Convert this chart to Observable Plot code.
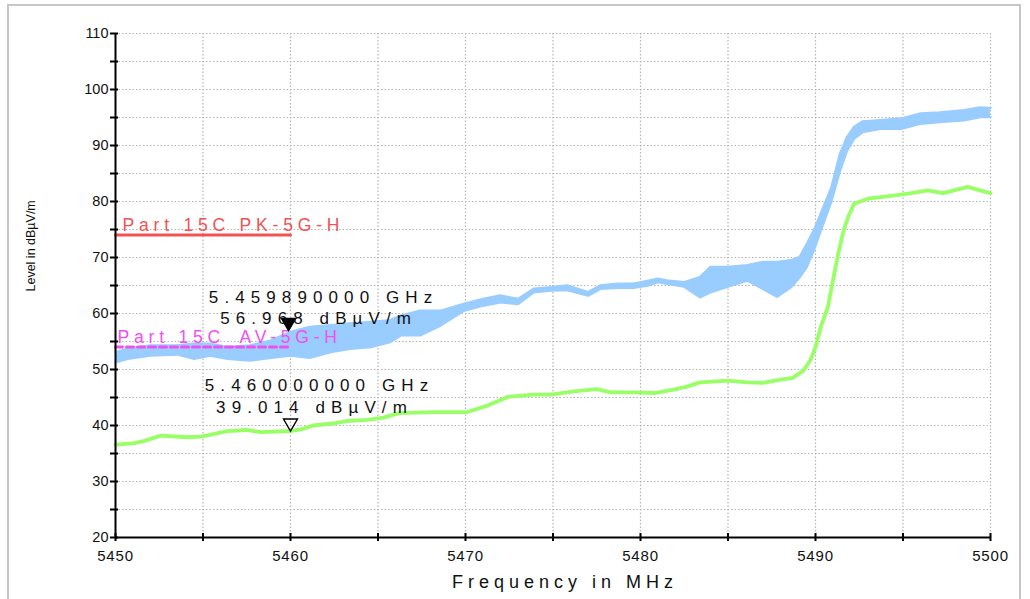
<!DOCTYPE html>
<html>
<head>
<meta charset="utf-8">
<script src="https://cdn.jsdelivr.net/npm/d3@7"></script>
<script src="https://cdn.jsdelivr.net/npm/@observablehq/plot@0.6"></script>
<style>
  html, body { margin: 0; padding: 0; background: #fff; }
  #frame { position: absolute; left: 7px; top: 4px; width: 1014px; height: 700px; border: 2px solid #c6c6c6; box-sizing: border-box; }
  #chart { position: absolute; left: 0; top: 0; }
</style>
</head>
<body>
<div id="frame"></div>
<div id="chart"></div>
<script>
// Peak detector trace (min / max envelope of the sweep), frequency in MHz, level in dBµV/m
const peakFreq = [5450.0, 5450.7, 5452.0, 5453.5, 5454.5, 5455.4, 5456.4, 5457.7, 5458.9, 5460.0,
  5461.1, 5462.3, 5463.4, 5464.6, 5465.7, 5466.3, 5467.4, 5468.6, 5469.9, 5471.0,
  5472.0, 5473.0, 5473.9, 5474.9, 5475.8, 5477.0, 5477.7, 5478.7, 5479.6, 5480.4,
  5481.0, 5481.5, 5482.5, 5483.4, 5484.0, 5485.0, 5486.1, 5487.0, 5487.8, 5488.6,
  5489.1, 5489.5, 5489.9, 5490.3, 5490.9, 5491.4, 5491.8, 5492.2, 5492.7, 5493.7,
  5494.9, 5496.0, 5497.1, 5498.5, 5499.4, 5500.0];
const peakLow = [51.3, 51.9, 52.5, 52.7, 51.9, 52.5, 51.9, 51.6, 52.1, 52.5,
  52.1, 53.1, 53.7, 54.0, 54.9, 56.1, 56.1, 57.9, 60.5, 61.4,
  62.0, 61.7, 63.8, 64.1, 64.2, 63.2, 64.4, 64.6, 64.6, 65.0,
  65.6, 65.3, 64.8, 62.9, 63.8, 64.8, 65.9, 64.4, 63.0, 64.7,
  66.5, 68.3, 71.3, 74.8, 80.0, 85.5, 89.1, 91.2, 92.4, 93.0,
  93.0, 93.9, 94.2, 94.5, 95.1, 95.1];
const peakHigh = [53.1, 53.7, 54.3, 54.3, 54.6, 54.6, 54.0, 54.3, 55.2, 56.7,
  57.6, 57.9, 58.2, 58.5, 58.8, 59.6, 60.5, 60.5, 61.7, 62.6,
  63.2, 62.6, 64.4, 64.7, 65.0, 63.8, 65.0, 65.3, 65.3, 65.8,
  66.2, 65.9, 65.6, 66.5, 68.3, 68.3, 68.6, 69.2, 69.2, 69.5,
  70.1, 72.4, 74.8, 77.8, 82.4, 88.5, 91.5, 93.3, 94.3, 94.5,
  94.8, 95.7, 95.9, 96.3, 96.8, 96.7];

// Average detector trace
const avgFreq = [5450.0, 5451.0, 5451.6, 5452.6, 5454.1, 5454.9, 5456.4, 5457.5, 5458.3, 5460.0,
  5460.6, 5461.3, 5462.5, 5463.2, 5464.4, 5465.3, 5466.2, 5468.2, 5470.1, 5471.3,
  5472.4, 5473.9, 5474.9, 5476.2, 5477.5, 5478.3, 5479.6, 5480.8, 5481.9, 5482.6,
  5483.4, 5485.0, 5486.1, 5487.0, 5488.0, 5488.7, 5489.3, 5489.7, 5490.0, 5490.3,
  5490.7, 5491.0, 5491.3, 5491.6, 5491.9, 5492.2, 5493.0, 5494.1, 5495.3, 5496.4,
  5497.3, 5498.7, 5499.4, 5500.0];
const avgLevel = [36.6, 36.8, 37.2, 38.2, 37.9, 38.0, 39.0, 39.2, 38.8, 39.014,
  39.3, 40.0, 40.4, 40.8, 41.0, 41.4, 42.2, 42.4, 42.4, 43.6,
  45.1, 45.5, 45.5, 46.1, 46.5, 45.9, 45.9, 45.8, 46.4, 46.9,
  47.7, 48.0, 47.7, 47.6, 48.2, 48.5, 49.8, 51.6, 54.0, 57.6,
  61.1, 65.9, 70.7, 74.8, 77.5, 79.6, 80.5, 80.9, 81.4, 82.0,
  81.5, 82.6, 82.0, 81.5];

// Limit lines
const limitFreq = [5450, 5460];
const limitPK = 74;
const limitAV = 54;
const limitPKName = "Part 15C PK-5G-H";
const limitAVName = "Part 15C_AV-5G-H";

// Markers (MHz, dBµV/m)
const peakMarker = {f: 5459.89, v: 56.968};
const avgMarker = {f: 5460.0, v: 39.014};

// Axis ticks
const xTicks = [5450, 5455, 5460, 5465, 5470, 5475, 5480, 5485, 5490, 5495, 5500];
const xLabels = [5450, 5460, 5470, 5480, 5490, 5500];
const yTicks = [20, 25, 30, 35, 40, 45, 50, 55, 60, 65, 70, 75, 80, 85, 90, 95, 100, 105, 110];
const yLabels = [20, 30, 40, 50, 60, 70, 80, 90, 100, 110];
const xTitle = "Frequency in MHz";
const yTitle = "Level in dBµV/m";

const peakData = peakFreq.map((f, i) => ({f, lo: peakLow[i], hi: peakHigh[i]}));
const avgData = avgFreq.map((f, i) => ({f, v: avgLevel[i]}));
const pkLine = limitFreq.map(f => ({f, v: limitPK}));
const avLine = limitFreq.map(f => ({f, v: limitAV}));

const blue = "#99ccff", green = "#99ff66", red = "#f25252", magenta = "#f24ff2";
const gridStyle = {stroke: "#b4b4b4", strokeOpacity: 1, strokeWidth: 1.2, strokeDasharray: "1.5,2"};
const ghz = d => `${(d.f / 1000).toFixed(9)} GHz`;
const lvl = d => `${d.v.toFixed(3)} dBµV/m`;
const plain = d => `${d}`;

const chart = Plot.plot({
  width: 1030,
  height: 599,
  marginLeft: 115,
  marginRight: 40,
  marginTop: 33,
  marginBottom: 62,
  x: {domain: [5450, 5500], label: null},
  y: {domain: [20, 110], label: null},
  style: {fontFamily: "'Liberation Sans', Arial, sans-serif", fontSize: "14px", background: "transparent", overflow: "visible", color: "#111"},
  marks: [
    Plot.gridX(xTicks, gridStyle),
    Plot.gridY(yTicks, gridStyle),
    // peak trace
    Plot.areaY(peakData, {x: "f", y1: "lo", y2: "hi", fill: blue}),
    Plot.line(peakData, {x: "f", y: "lo", stroke: blue, strokeWidth: 2.5}),
    Plot.line(peakData, {x: "f", y: "hi", stroke: blue, strokeWidth: 2.5}),
    // average trace
    Plot.line(avgData, {x: "f", y: "v", stroke: green, strokeWidth: 3.8}),
    // limits
    Plot.line(pkLine, {x: "f", y: "v", stroke: red, strokeWidth: 3}),
    Plot.line(avLine, {x: "f", y: "v", stroke: magenta, strokeWidth: 3, strokeDasharray: "7,4"}),
    Plot.text([pkLine[0]], {x: "f", y: "v", text: () => limitPKName, textAnchor: "start", dx: 7, dy: -9.5, fill: red, fontSize: 17.5}),
    Plot.text([avLine[0]], {x: "f", y: "v", text: () => limitAVName, textAnchor: "start", dx: 2, dy: -9.5, fill: magenta, fontSize: 17.5}),
    // markers
    Plot.dot([peakMarker], {x: "f", y: "v", symbol: "triangle", rotate: 180, r: 5.2, dy: -8, fill: "#000", stroke: "#000"}),
    Plot.dot([avgMarker], {x: "f", y: "v", symbol: "triangle", rotate: 180, r: 5.2, dy: -8, fill: "none", stroke: "#000", strokeWidth: 1.4}),
    Plot.text([peakMarker], {x: "f", y: "v", text: ghz, dx: 35, dy: -33, fontSize: 17, fill: "#111"}),
    Plot.text([peakMarker], {x: "f", y: "v", text: lvl, dx: 30, dy: -11.5, fontSize: 17, fill: "#111"}),
    Plot.text([avgMarker], {x: "f", y: "v", text: ghz, dx: 29, dy: -45.5, fontSize: 17, fill: "#111"}),
    Plot.text([avgMarker], {x: "f", y: "v", text: lvl, dx: 24, dy: -23.5, fontSize: 17, fill: "#111"}),
    // axes
    Plot.ruleX([5450], {stroke: "#000", strokeWidth: 2}),
    Plot.ruleY([20], {stroke: "#000", strokeWidth: 2}),
    Plot.axisY(yTicks, {tickSize: 8, dx: 3, tickFormat: () => "", strokeWidth: 2, stroke: "#000", label: null}),
    Plot.axisX(xTicks, {tickSize: 8, dy: -4, tickFormat: () => "", strokeWidth: 2, stroke: "#000", label: null}),
    Plot.axisY(yLabels, {tickSize: 0, tickPadding: 7, tickFormat: plain, fill: "#111", label: null}),
    Plot.axisX(xLabels, {tickSize: 0, tickPadding: 13, tickFormat: plain, fill: "#111", label: null}),
    Plot.text([xTitle], {frameAnchor: "bottom", dy: 50, dx: 12, fontSize: 18, fill: "#111"}),
    Plot.text([yTitle], {frameAnchor: "left", rotate: -90, dx: -85, dy: 6, fontSize: 12.5, fill: "#111"})
  ]
});

// text styling that Plot has no option for: letter spacing and tick label sizes
const svg = d3.select(chart);
svg.selectAll("text").each(function () {
  const t = this.textContent;
  const s = d3.select(this);
  if (t.includes("GHz") || (t.includes("dBµV/m") && !t.startsWith("Level"))) s.style("letter-spacing", "6.1px");
  else if (t.startsWith("Part")) s.style("letter-spacing", "4.8px");
  else if (t === xTitle) s.style("letter-spacing", "5px");
});
svg.selectAll('g[aria-label="y-axis tick label"] text').style("font-size", "14.5px");
svg.selectAll('g[aria-label="x-axis tick label"] text').style("font-size", "15px").style("letter-spacing", "0.8px");

document.getElementById("chart").appendChild(chart);
</script>
</body>
</html>
